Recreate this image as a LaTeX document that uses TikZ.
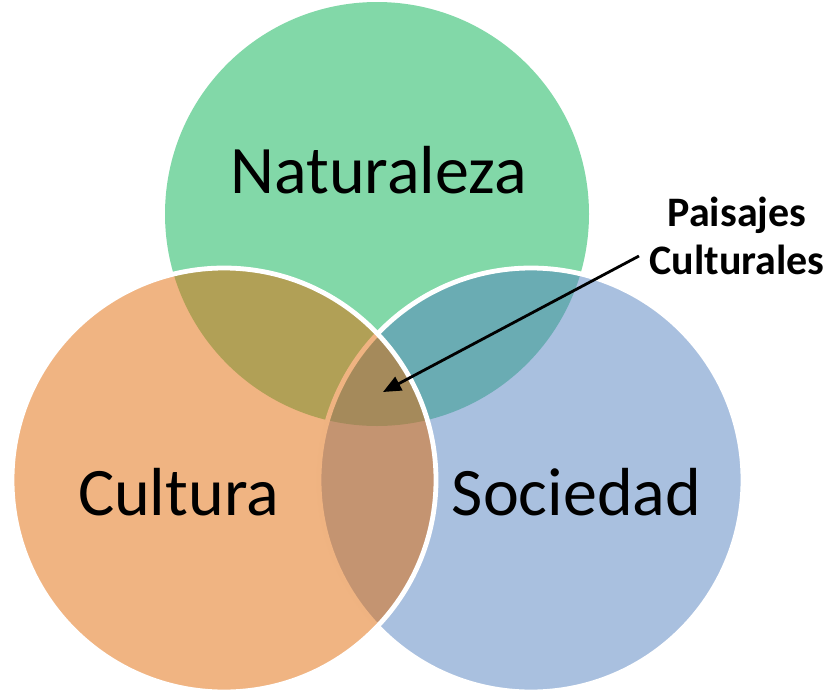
\documentclass[tikz,border=0pt]{standalone}
\usepackage{fontspec}
\setmainfont{Carlito}
\usetikzlibrary{arrows.meta}
\definecolor{natc}{RGB}{5,177,81}
\definecolor{culc}{RGB}{225,105,5}
\definecolor{socc}{RGB}{83,129,191}
\begin{document}
\begin{tikzpicture}[x=1pt,y=-1pt,
  venn/.style={fill opacity=0.5},
  rim/.style={draw=white,line width=4.8pt},
  big/.style={font=\fontsize{68}{80}\selectfont,text=black,inner sep=0pt,anchor=base},
  lab/.style={font=\bfseries\fontsize{42}{50}\selectfont,text=black,inner sep=0pt,anchor=base},
  pointer/.style={draw=black,line width=2.8pt,-{Triangle[length=18pt,width=15pt]}}]
\useasboundingbox (0,0) rectangle (830,694);
% circles
\fill[natc,venn] (377,214) circle[radius=212pt];
\fill[socc,venn] (531,480) circle[radius=212pt];
\draw[rim] (531,480) circle[radius=212pt];
\fill[culc,venn] (224,480) circle[radius=212pt];
\draw[rim] (224,480) circle[radius=212pt];
% labels
\node[big] (nat) at (378.5,193) {Naturaleza};
\node[big] (cul) at (178.5,515) {Cultura};
\node[big] (soc) at (576.5,515) {Sociedad};
\node[lab] (pa1) at (737,226) {Paisajes};
\node[lab] (pa2) at (737,274) {Culturales};
\coordinate (from) at (639,256);
\coordinate (tip) at (383,392);
\draw[pointer] (from) -- (tip);
\end{tikzpicture}
\end{document}
